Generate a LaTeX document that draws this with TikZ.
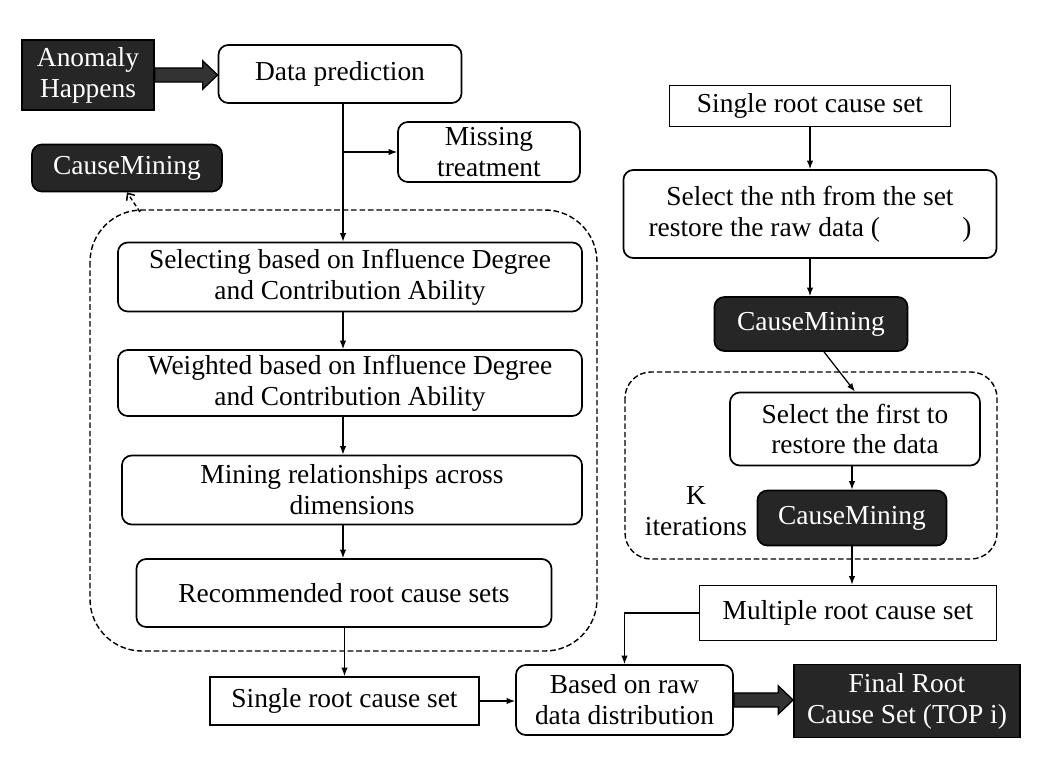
\documentclass[tikz,border=0pt]{standalone}
\usepackage{fontspec}
\setmainfont{Liberation Serif}
\usepackage{xcolor}
\usetikzlibrary{arrows.meta,calc}
\definecolor{dkbox}{HTML}{262626}
\definecolor{fatgray}{HTML}{333333}
\tikzset{
    RB/.style ={rectangle, rounded corners=7pt, draw, line width=1.2pt, align=center, inner sep=2pt},
    RA/.style ={rectangle, draw, line width=1.2pt, align=center, inner sep=2pt},
    DK/.style ={rectangle, draw, fill=dkbox, text=white, line width=1.2pt, align=center, inner sep=2pt},
    DR/.style ={DK, rounded corners=7pt},
    GR/.style ={draw, dash pattern=on 4pt off 2pt, line width=1pt, rounded corners=#1},
    AR/.style ={-{Latex[length=6pt,width=4.5pt]}, line width=0.9pt},
    DA/.style ={-{Straight Barb[length=4pt,width=7pt,line width=1.1pt,sharp]}, dash pattern=on 3pt off 2pt, line width=1pt},
    FAT/.style ={fill=fatgray, draw=black, line width=0.9pt}
}
\newcommand\fatarrow[2]{%
    \path[FAT] let \p1=(#1.east), \p2=(#2.west) in
        (\x1,\y1+5pt) -- (\x2-10.5pt,\y1+5pt) -- (\x2-10.5pt,\y1+10pt) -- (\x2,\y1)
        -- (\x2-10.5pt,\y1-10pt) -- (\x2-10.5pt,\y1-5pt) -- (\x1,\y1-5pt) -- cycle;}

\begin{document}
\begin{tikzpicture}[x=0.025cm,y=-0.025cm,font=\fontsize{19.5}{22}\selectfont]
        \useasboundingbox (0,0) rectangle (1038,768);
        % left part
        \node[DK,minimum width=3.3cm,minimum height=1.75cm] (anom) at (88,75) {Anomaly\\Happens};
        \node[RB,minimum width=6.075cm,minimum height=1.45cm] (pred) at (340,74) {Data prediction};
        \node[RB,minimum width=4.55cm,minimum height=1.5cm] (miss) at (489,152) {Missing\\treatment};
        \node[DR,minimum width=4.75cm,minimum height=1.175cm] (cmL) at (127,168) {CauseMining};
        \draw[GR=1.3cm] (90,210) rectangle (597,651);
        \coordinate (grpL) at (140,212);
        \coordinate (spine) at (343,0);
        \node[RB,minimum width=11.6cm,minimum height=1.725cm] (sel) at (350,277) {Selecting based on Influence Degree\\and Contribution Ability};
        \node[RB,minimum width=11.6cm,minimum height=1.65cm] (wei) at (350,383) {Weighted based on Influence Degree\\and Contribution Ability};
        \node[RB,minimum width=11.5cm,minimum height=1.725cm] (mine) at (352,490) {Mining relationships across\\dimensions};
        \node[RB,minimum width=10.375cm,minimum height=1.7cm] (rec) at (344,593) {Recommended root cause sets};
        \node[RA,minimum width=6.725cm,minimum height=1.2cm] (sgl) at (344.5,701) {Single root cause set};
        \node[RB,minimum width=5.425cm,minimum height=1.75cm] (raw) at (624.5,700) {Based on raw\\data distribution};
        \node[DK,minimum width=5.65cm,minimum height=1.825cm] (fin) at (907,701) {Final Root\\Cause Set (TOP i)};
        % right part
        \node[RA,minimum width=7.025cm,minimum height=1.025cm] (sgr) at (810,106) {Single root cause set};
        \node[RB,minimum width=9.325cm,minimum height=2.2cm] (nth) at (810,214) {Select the nth from the set\\restore the raw data (\hspace{3em})};
        \node[DR,minimum width=4.825cm,minimum height=1.35cm] (cmR) at (811,324) {CauseMining};
        \draw[GR=0.65cm] (625,372) rectangle (997,559);
        \node[RB,minimum width=6.25cm,minimum height=1.825cm] (fst) at (855,429) {Select the first to\\restore the data};
        \node[DR,minimum width=4.725cm,minimum height=1.375cm] (cmK) at (852,518) {CauseMining};
        \node[align=center] (kit) at (696,511) {K\\iterations};
        \node[RA,minimum width=7.425cm,minimum height=1.375cm] (mul) at (848,613) {Multiple root cause set};
        % connectors
        \fatarrow{anom}{pred}
        \fatarrow{raw}{fin}
        \draw[AR] (pred.south -| spine) -- (sel.north -| spine);
        \draw[AR] (miss.west -| spine) -- (miss.west);
        \draw[DA] (grpL) -- (cmL.south);
        \draw[AR] (sel.south -| spine) -- (wei.north -| spine);
        \draw[AR] (wei.south -| spine) -- (mine.north -| spine);
        \draw[AR] (mine.south -| spine) -- (rec.north -| spine);
        \draw[AR] (rec.south -| sgl.north) -- (sgl.north);
        \draw[AR] (sgl.east) -- (sgl.east -| raw.west);
        \draw[AR] (sgr.south) -- (nth.north);
        \draw[AR] (nth.south) -- (nth.south |- cmR.north);
        \draw[AR] (cmR.-65) -- (fst.north);
        \draw[AR] (fst.south -| cmK.north) -- (cmK.north);
        \draw[AR] (cmK.south) -- (cmK.south |- mul.north);
        \draw[AR] (mul.west) -| (raw.north);
\end{tikzpicture}
\end{document}
